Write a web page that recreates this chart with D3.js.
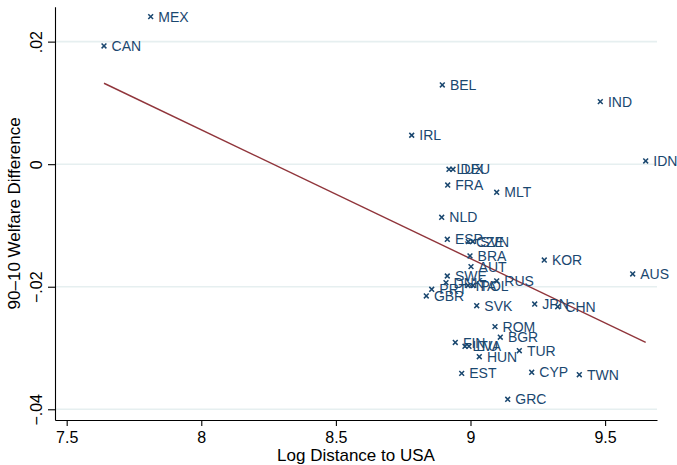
<!DOCTYPE html>
<html>
<head>
<meta charset="utf-8">
<script src="https://cdn.jsdelivr.net/npm/d3@7"></script>
<style>
  html, body { margin: 0; padding: 0; background: #ffffff; }
  svg { display: block; font-family: "Liberation Sans", Arial, Helvetica, sans-serif; }
</style>
</head>
<body>
<svg id="chart" width="677" height="465"></svg>
<script>
// Country codes, log distance to the USA, and 90-10 welfare difference
const countries = [
  "MEX","CAN","BEL","IND","IRL","IDN","LUX","DEU","FRA","MLT",
  "NLD","ESP","CZE","SVN","BRA","KOR","AUT","AUS","SWE","DNK",
  "ITA","POL","RUS","PRT","GBR","SVK","JPN","CHN","ROM","BGR",
  "FIN","LTU","LVA","HUN","TUR","EST","CYP","TWN","GRC"
];
const logDistance = [
  7.812, 7.6386, 8.8953, 9.4822, 8.7816, 9.6508, 8.9201, 8.935, 8.9153, 9.0973,
  8.893, 8.9139, 8.9918, 9.0082, 8.9981, 9.2741, 9.0019, 9.6025, 8.9138, 8.909,
  8.9907, 9.0093, 9.0973, 8.8559, 8.8358, 9.0231, 9.2385, 9.3239, 9.091, 9.1107,
  8.9435, 8.9796, 8.9944, 9.0327, 9.1813, 8.9673, 9.2274, 9.4042, 9.1382
];
const welfareDiff = [
  0.02407, 0.01929, 0.01293, 0.0102, 0.00472, 0.00052, -0.00083, -0.00083, -0.0034, -0.00459,
  -0.00867, -0.01226, -0.01265, -0.01265, -0.01498, -0.01564, -0.01673, -0.01792, -0.01825, -0.01934,
  -0.0198, -0.0198, -0.01906, -0.02042, -0.02151, -0.0231, -0.02282, -0.02326, -0.02652, -0.02824,
  -0.0291, -0.02972, -0.02972, -0.03142, -0.03044, -0.03413, -0.03396, -0.03436, -0.03837
];

// Fitted values: intercept and slope of the linear fit
const fitIntercept = 0.17377;
const fitSlope = -0.02102;

// Axis ticks
const xTickValues = [7.5, 8, 8.5, 9, 9.5];
const xTickLabels = ["7.5", "8", "8.5", "9", "9.5"];
const yTickValues = [-0.04, -0.02, 0, 0.02];
const yTickLabels = ["\u2212.04", "\u2212.02", "0", ".02"];

const xTitle = "Log Distance to USA";
const yTitle = "90\u201310 Welfare Difference";

const svg = d3.select("#chart");
const plot = { left: 55, right: 657, top: 6.7, bottom: 420 };

const x = d3.scaleLinear().domain([7.4566, 9.6928]).range([plot.left, plot.right]);
const y = d3.scaleLinear().domain([-0.04175, 0.0257]).range([plot.bottom, plot.top]);

const navy = "#1a476f";
const maroon = "#90353b";

// Horizontal grid lines
svg.append("g").selectAll("line")
  .data(yTickValues)
  .join("line")
  .attr("x1", plot.left).attr("x2", plot.right)
  .attr("y1", d => y(d)).attr("y2", d => y(d))
  .attr("stroke", "#e6eff0")
  .attr("stroke-width", 1.6);

// Fitted line over the range of the data
const xExt = d3.extent(logDistance);
const fitLine = xExt.map(v => [v, fitIntercept + fitSlope * v]);
svg.append("path")
  .datum(fitLine)
  .attr("fill", "none")
  .attr("stroke", maroon)
  .attr("stroke-width", 1.4)
  .attr("d", d3.line().x(d => x(d[0])).y(d => y(d[1])));

// Points and labels
const pts = countries.map((c, i) => ({ c, xv: logDistance[i], yv: welfareDiff[i] }));
const cross = "M-2.4,-2.4L2.4,2.4M-2.4,2.4L2.4,-2.4";

const pg = svg.append("g").selectAll("g")
  .data(pts)
  .join("g")
  .attr("transform", d => `translate(${x(d.xv)},${y(d.yv)})`);

pg.append("path")
  .attr("d", cross)
  .attr("stroke", navy)
  .attr("stroke-width", 1.5)
  .attr("fill", "none");

pg.append("text")
  .attr("x", 7.6)
  .attr("dy", "0.36em")
  .attr("fill", navy)
  .attr("font-size", 14)
  .text(d => d.c);

// Y axis
const yAxis = d3.axisLeft(y)
  .tickValues(yTickValues)
  .tickFormat((d, i) => yTickLabels[i])
  .tickSize(7)
  .tickSizeOuter(0);

const gy = svg.append("g")
  .attr("transform", `translate(${plot.left},0)`)
  .call(yAxis);
gy.selectAll("text")
  .attr("transform", "rotate(-90)")
  .attr("x", 0)
  .attr("y", -13)
  .attr("dy", 0)
  .attr("text-anchor", "middle")
  .attr("font-size", 16)
  .attr("font-family", null)
  .attr("fill", "#000");

// X axis
const xAxis = d3.axisBottom(x)
  .tickValues(xTickValues)
  .tickFormat((d, i) => xTickLabels[i])
  .tickSize(6)
  .tickPadding(5.5)
  .tickSizeOuter(0);

const gx = svg.append("g")
  .attr("transform", `translate(0,${plot.bottom})`)
  .call(xAxis);
gx.selectAll("text")
  .attr("font-size", 16)
  .attr("font-family", null)
  .attr("fill", "#000");

[gx, gy].forEach(g => {
  g.attr("font-family", null);
  g.selectAll("line, path").attr("stroke", "#000").attr("stroke-width", 1.1);
});

// Axis titles
svg.append("text")
  .attr("x", (plot.left + plot.right) / 2)
  .attr("y", 461)
  .attr("text-anchor", "middle")
  .attr("font-size", 17)
  .attr("fill", "#000")
  .text(xTitle);

svg.append("text")
  .attr("transform", `translate(20,${(plot.top + plot.bottom) / 2}) rotate(-90)`)
  .attr("text-anchor", "middle")
  .attr("font-size", 17)
  .attr("fill", "#000")
  .text(yTitle);
</script>
</body>
</html>
